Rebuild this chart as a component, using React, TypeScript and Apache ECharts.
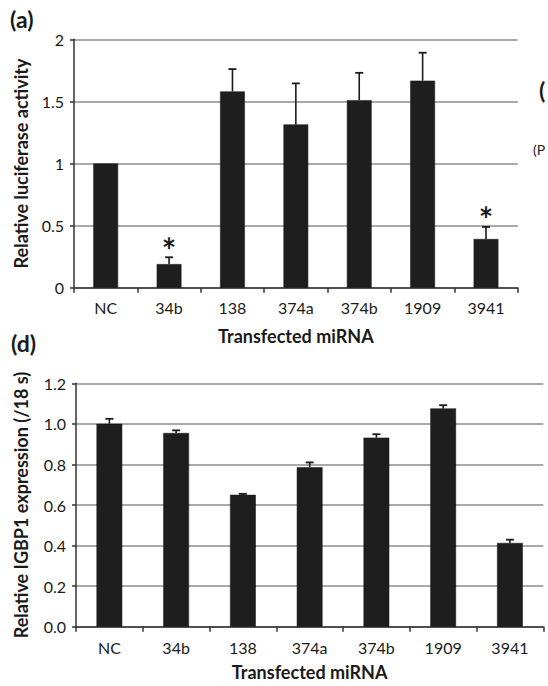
import React, { useEffect, useRef } from "react";
import * as echarts from "echarts";

const categories = ["NC", "34b", "138", "374a", "374b", "1909", "3941"];

// Panel (a): relative luciferase activity
const lucValues = [1.0, 0.19, 1.58, 1.315, 1.51, 1.667, 0.392];
const lucErrors = [0.0, 0.055, 0.18, 0.33, 0.22, 0.225, 0.097];
const lucSignificant = [0, 1, 0, 0, 0, 0, 1];
const lucTicks = [0, 0.5, 1, 1.5, 2];

// Panel (d): relative IGBP1 expression (/18 s)
const igbpValues = [1.0, 0.955, 0.65, 0.786, 0.932, 1.076, 0.413];
const igbpErrors = [0.025, 0.013, 0.005, 0.024, 0.017, 0.016, 0.016];
const igbpSignificant = [0, 0, 0, 0, 0, 0, 0];
const igbpTicks = [0, 0.2, 0.4, 0.6, 0.8, 1.0, 1.2];

const FONT = "Lato, 'Open Sans', sans-serif";
const TEXT = "#1a1a1a";
const BAR = "#1e1e1e";

export default function App() {
  const ref = useRef<HTMLDivElement>(null);

  useEffect(() => {
    document.body.style.margin = "0";
    if (!ref.current) return;
    const chart = echarts.init(ref.current, null, { renderer: "svg" });

    const errRender = (params: any, api: any) => {
      const idx = api.value(0);
      const v = api.value(1);
      const e = api.value(2);
      const s = api.value(3);
      const base = api.coord([idx, v]);
      const hi = api.coord([idx, v + e]);
      const children: any[] = [];
      if (e > 0) {
        children.push({
          type: "line",
          shape: { x1: base[0], y1: base[1], x2: hi[0], y2: hi[1] },
          style: { stroke: "#1a1a1a", lineWidth: 1.6 },
        });
        children.push({
          type: "line",
          shape: { x1: hi[0] - 4, y1: hi[1], x2: hi[0] + 4, y2: hi[1] },
          style: { stroke: "#1a1a1a", lineWidth: 1.8 },
        });
      }
      if (s) {
        children.push({
          type: "text",
          x: hi[0],
          y: hi[1] + 9,
          style: {
            text: "*",
            fontSize: 34,
            fontWeight: "bold",
            fontFamily: FONT,
            fill: "#1a1a1a",
            align: "center",
            verticalAlign: "bottom",
          },
        });
      }
      return { type: "group", children };
    };

    const xAxisCommon = (gridIndex: number, nameGap: number, labelMargin: number) => ({
      type: "category",
      gridIndex,
      data: categories,
      boundaryGap: true,
      axisLine: { show: true, lineStyle: { color: "#333", width: 1.5 } },
      axisTick: { show: true, alignWithLabel: false, length: 5, lineStyle: { color: "#333", width: 1.5 } },
      axisLabel: { fontSize: 16, color: TEXT, fontFamily: FONT, margin: labelMargin },
      name: "Transfected miRNA",
      nameLocation: "middle",
      nameGap,
      nameTextStyle: { fontSize: 18, fontWeight: "bold", color: TEXT, fontFamily: FONT },
      splitLine: { show: false },
    });

    const yAxisCommon = (
      gridIndex: number,
      ticks: number[],
      name: string,
      nameGap: number,
      fmt: (v: number) => string
    ) => ({
      type: "value",
      gridIndex,
      min: ticks[0],
      max: ticks[ticks.length - 1],
      interval: ticks[1] - ticks[0],
      axisLine: { show: true, lineStyle: { color: "#333", width: 1.5 } },
      axisTick: { show: true, length: 4, lineStyle: { color: "#333", width: 1.5 } },
      axisLabel: { fontSize: 16, color: TEXT, fontFamily: FONT, margin: 10, formatter: fmt },
      splitLine: { show: true, lineStyle: { color: "#8c8c8c", width: 1.6 } },
      name,
      nameLocation: "middle",
      nameGap,
      nameTextStyle: { fontSize: 18, fontWeight: "bold", color: TEXT, fontFamily: FONT },
    });

    chart.setOption({
      animation: false,
      backgroundColor: "#ffffff",
      grid: [
        { left: 74, right: 30.3, top: 39.3, bottom: 398.3 },
        { left: 76, right: 4.7, top: 383.3, bottom: 59.3 },
      ],
      xAxis: [xAxisCommon(0, 39, 12), xAxisCommon(1, 36, 13)],
      yAxis: [
        yAxisCommon(0, lucTicks, "Relative luciferase activity", 44, (v: number) => String(Math.round(v * 10) / 10)),
        yAxisCommon(1, igbpTicks, "Relative IGBP1 expression (/18 s)", 46, (v: number) => v.toFixed(1)),
      ],
      series: [
        {
          type: "bar",
          xAxisIndex: 0,
          yAxisIndex: 0,
          data: lucValues,
          barWidth: "39%",
          itemStyle: { color: BAR, borderColor: "#111", borderWidth: 0.5 },
          z: 2,
        },
        {
          type: "custom",
          xAxisIndex: 0,
          yAxisIndex: 0,
          data: lucValues.map((v, i) => [i, v, lucErrors[i], lucSignificant[i]]),
          encode: { x: 0, y: 1 },
          renderItem: errRender,
          z: 3,
        },
        {
          type: "bar",
          xAxisIndex: 1,
          yAxisIndex: 1,
          data: igbpValues,
          barWidth: "38.5%",
          itemStyle: { color: BAR, borderColor: "#111", borderWidth: 0.5 },
          z: 2,
        },
        {
          type: "custom",
          xAxisIndex: 1,
          yAxisIndex: 1,
          data: igbpValues.map((v, i) => [i, v, igbpErrors[i], igbpSignificant[i]]),
          encode: { x: 0, y: 1 },
          renderItem: errRender,
          z: 3,
        },
      ],
      graphic: [
        {
          type: "text",
          left: 10,
          top: 7,
          style: { text: "(a)", fontSize: 23, fontWeight: "bold", fontFamily: FONT, fill: TEXT },
        },
        {
          type: "text",
          left: 11,
          top: 331,
          style: { text: "(d)", fontSize: 23, fontWeight: "bold", fontFamily: FONT, fill: TEXT },
        },
        {
          type: "text",
          x: 539,
          y: 78,
          style: { text: "(", fontSize: 23, fontWeight: "bold", fontFamily: FONT, fill: TEXT },
        },
        {
          type: "text",
          x: 533,
          y: 142,
          style: { text: "(P", fontSize: 14, fontFamily: FONT, fill: TEXT },
        },
      ],
    });

    return () => chart.dispose();
  }, []);

  return <div ref={ref} style={{ width: 548, height: 686 }} />;
}
